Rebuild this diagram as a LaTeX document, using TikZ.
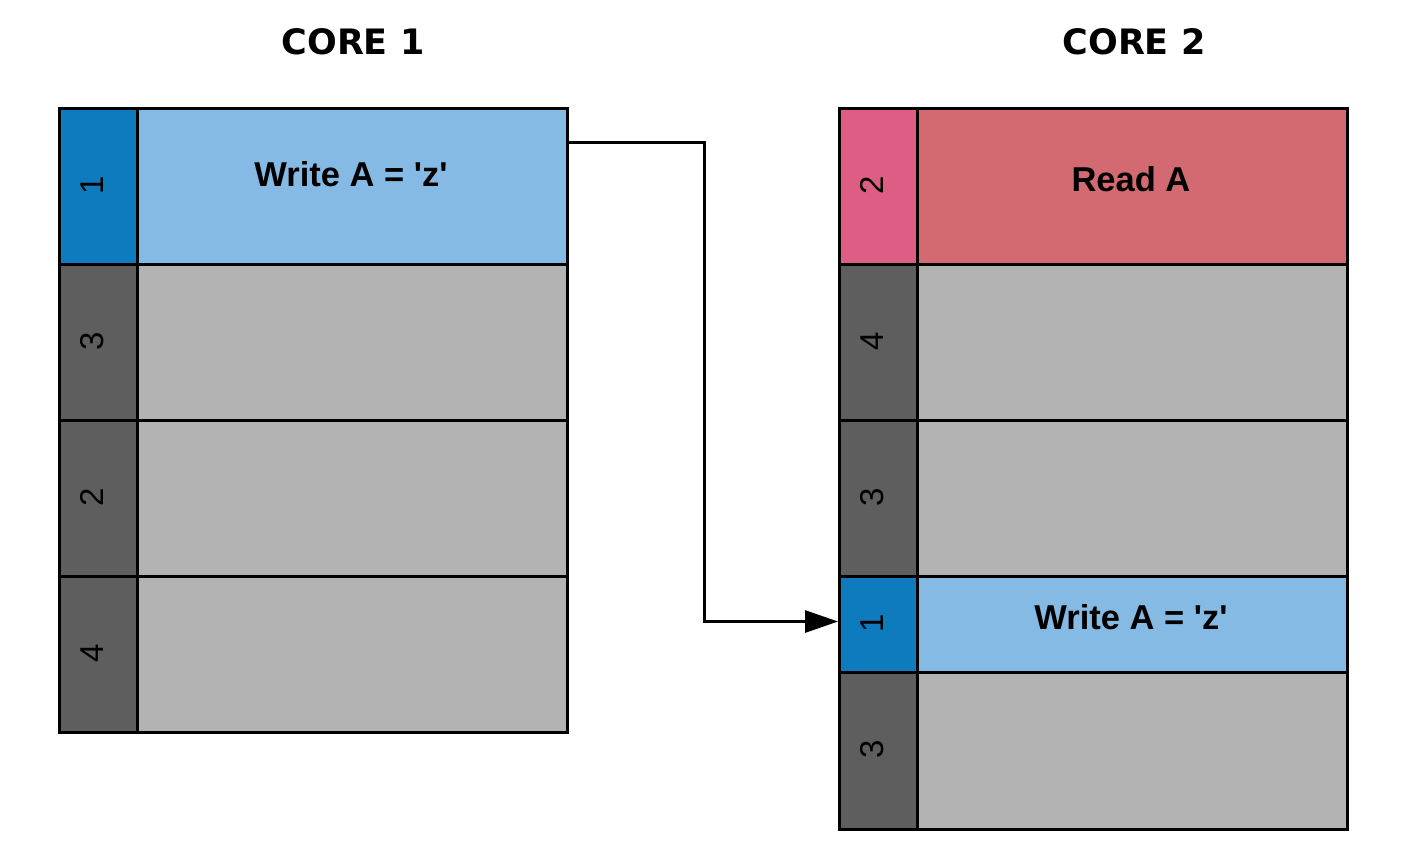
\documentclass[tikz,border=0pt]{standalone}
\usepackage{fontspec}
\setmainfont{Liberation Sans}
\newfontfamily\titlefont{DejaVu Sans}
\usetikzlibrary{arrows.meta}
\definecolor{dblue}{HTML}{0F7BBF}
\definecolor{lblue}{HTML}{85BAE4}
\definecolor{pinkc}{HTML}{DD5D84}
\definecolor{redc}{HTML}{D36A71}
\definecolor{dgray}{HTML}{5E5E5E}
\definecolor{lgray}{HTML}{B3B3B3}
\tikzset{
  cell/.style={draw=black, line width=3pt, inner sep=0pt, anchor=north west},
  labcell/.style={cell, minimum width=78pt},
  concell/.style={cell, minimum width=430pt},
  num/.style={rotate=90, inner sep=0pt, font=\fontsize{33}{33}\selectfont},
  celltext/.style={inner sep=0pt, font=\fontsize{34.5}{34.5}\selectfont\bfseries},
  titletext/.style={inner sep=0pt, font=\fontsize{35}{35}\selectfont\titlefont\bfseries},
  conn/.style={draw=black, line width=3pt, -{Triangle[length=33pt,width=22pt]}}
}
\begin{document}
\begin{tikzpicture}[x=1pt,y=-1pt]
\useasboundingbox[fill=white] (0,0) rectangle (1404,863);
% titles
\node[titletext] (core1) at (353,42) {CORE 1};
\node[titletext] (core2) at (1134,42) {CORE 2};
% left table
\node[labcell, fill=dblue, minimum height=156pt] (l1l) at (58,107) {};
\node[concell, fill=lblue, minimum height=156pt] (l1c) at (136,107) {};
\node[labcell, fill=dgray, minimum height=156pt] (l2l) at (58,263) {};
\node[concell, fill=lgray, minimum height=156pt] (l2c) at (136,263) {};
\node[labcell, fill=dgray, minimum height=156pt] (l3l) at (58,419) {};
\node[concell, fill=lgray, minimum height=156pt] (l3c) at (136,419) {};
\node[labcell, fill=dgray, minimum height=156pt] (l4l) at (58,575) {};
\node[concell, fill=lgray, minimum height=156pt] (l4c) at (136,575) {};
\node[num] (n11) at (92,185) {1};
\node[num] (n12) at (92,341) {3};
\node[num] (n13) at (92,497) {2};
\node[num] (n14) at (92,653) {4};
\node[celltext] (tw1) at (351,174) {Write A = \textquotesingle z\textquotesingle};
% right table
\node[labcell, fill=pinkc, minimum height=156pt] (r1l) at (838,107) {};
\node[concell, fill=redc, minimum height=156pt] (r1c) at (916,107) {};
\node[labcell, fill=dgray, minimum height=156pt] (r2l) at (838,263) {};
\node[concell, fill=lgray, minimum height=156pt] (r2c) at (916,263) {};
\node[labcell, fill=dgray, minimum height=156pt] (r3l) at (838,419) {};
\node[concell, fill=lgray, minimum height=156pt] (r3c) at (916,419) {};
\node[labcell, fill=dblue, minimum height=96pt] (r4l) at (838,575) {};
\node[concell, fill=lblue, minimum height=96pt] (r4c) at (916,575) {};
\node[labcell, fill=dgray, minimum height=157pt] (r5l) at (838,671) {};
\node[concell, fill=lgray, minimum height=157pt] (r5c) at (916,671) {};
\node[num] (n21) at (872,185) {2};
\node[num] (n22) at (872,341) {4};
\node[num] (n23) at (872,497) {3};
\node[num] (n24) at (872,623) {1};
\node[num] (n25) at (872,749) {3};
\node[celltext] (tr1) at (1131,179) {Read A};
\node[celltext] (tw2) at (1131,617) {Write A = \textquotesingle z\textquotesingle};
% connector
\draw[conn] ([yshift=44pt]l1c.east) -- ++(135,0) |- ([yshift=3pt]r4l.west);
\end{tikzpicture}
\end{document}
